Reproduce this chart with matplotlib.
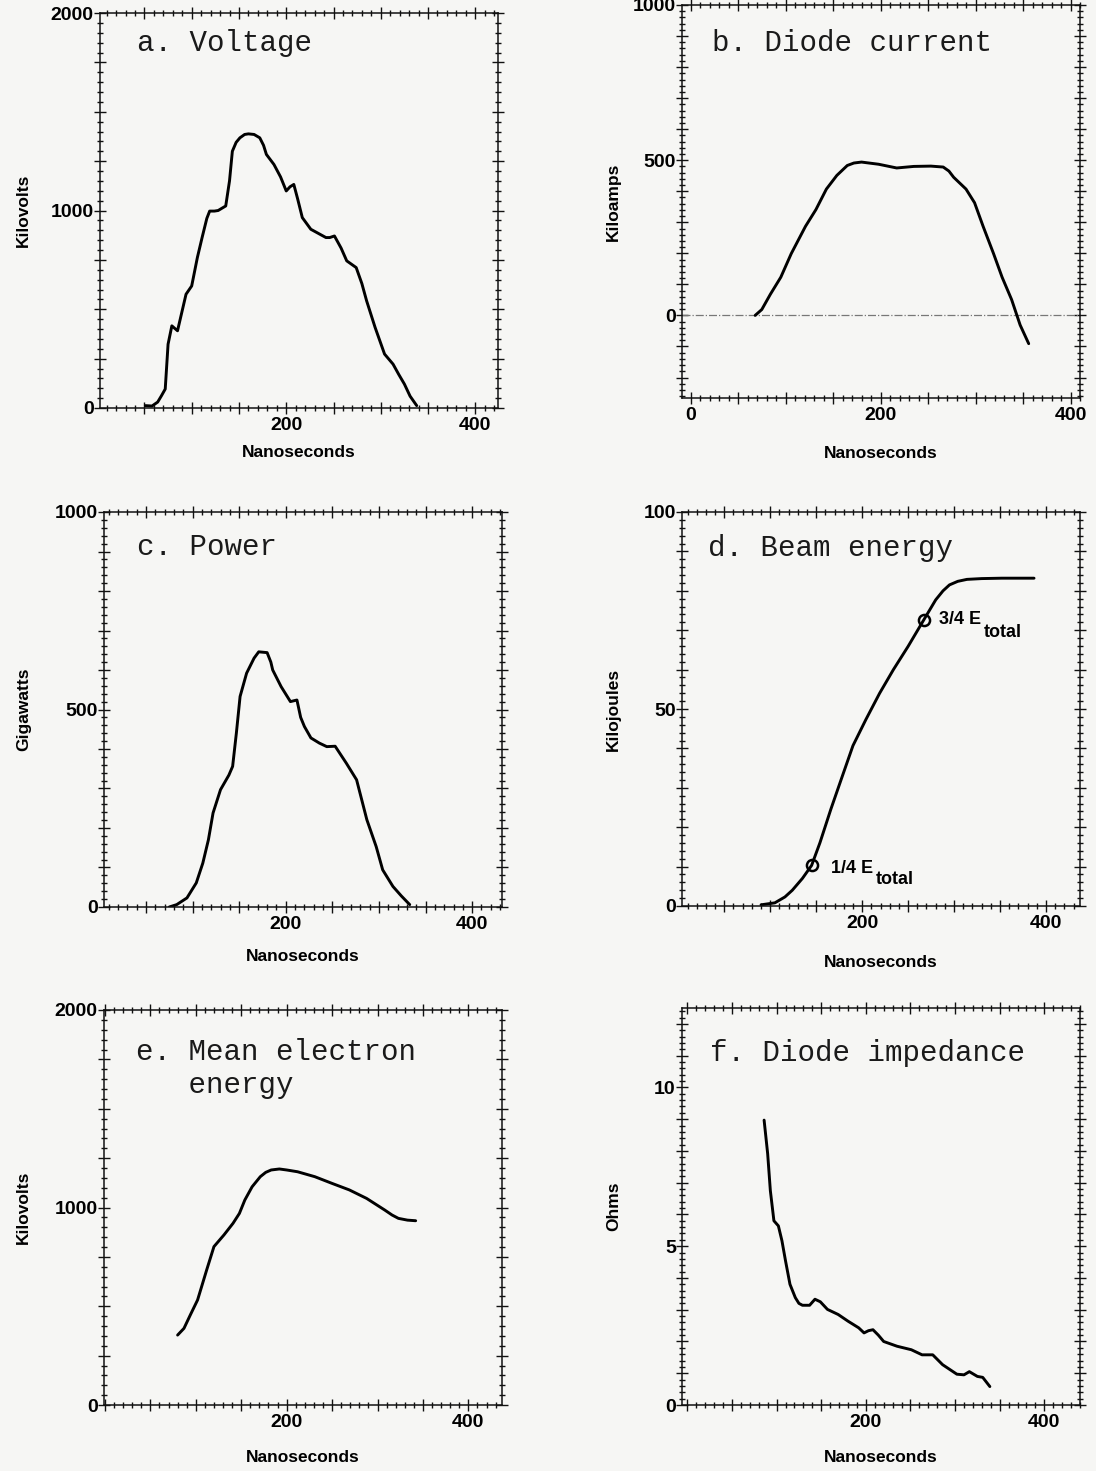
import matplotlib
matplotlib.use("Agg")
import matplotlib.pyplot as plt
from matplotlib.ticker import MultipleLocator, FuncFormatter

# a. Voltage (ns, kV)
volt_t = [51, 58, 64, 68, 72, 75, 79, 85, 94, 100, 106, 111, 116, 119, 124, 128, 136, 140, 143, 147,
          151, 156, 160, 166, 172, 176, 179, 187, 194, 200, 204, 208, 212, 217, 226, 242, 246, 251,
          258, 264, 274, 280, 285, 294, 304, 313, 319, 325, 331, 338]
volt_kv = [12, 10, 30, 62, 96, 323, 416, 391, 576, 618, 762, 863, 960, 997, 997, 1000, 1023, 1150, 1300, 1345,
           1368, 1385, 1388, 1385, 1368, 1330, 1284, 1233, 1170, 1099, 1120, 1132, 1060, 964, 905, 863, 863, 871,
           810, 745, 711, 630, 543, 408, 273, 222, 170, 121, 60, 12]

# b. Diode current (ns, kA)
cur_t = [68, 75, 84, 95, 106, 121, 132, 143, 154, 165, 172, 180, 198, 217, 235, 253, 266,
         272, 277, 290, 299, 308, 319, 328, 338, 347, 356]
cur_ka = [0, 19, 68, 123, 199, 287, 341, 407, 451, 483, 491, 494, 487, 475, 480, 481, 478,
          465, 445, 407, 363, 287, 199, 123, 51, -31, -91]

# c. Power (ns, GW)
pow_t = [75, 83, 94, 104, 111, 117, 122, 130, 139, 143, 147, 151, 158, 166, 171, 180, 184, 186,
         195, 205, 212, 216, 220, 227, 236, 244, 253, 265, 276, 287, 297, 304, 315, 324, 333]
pow_gw = [0, 6, 23, 61, 111, 170, 238, 297, 334, 356, 440, 533, 592, 630, 646, 644, 620, 600,
          558, 520, 524, 480, 457, 428, 415, 406, 407, 364, 322, 221, 153, 94, 52, 28, 6]

# d. Beam energy (ns, kJ)
en_t = [90, 105, 116, 124, 135, 145, 154, 166, 177, 190, 204, 219, 234, 250, 267, 280, 288, 295,
        304, 314, 330, 352, 387]
en_kj = [0.3, 0.8, 2.3, 4, 7, 10.3, 16, 24.6, 32, 40.7, 47.3, 54, 60, 65.9, 72.6, 77.7, 80.0, 81.5,
         82.4, 82.9, 83.1, 83.2, 83.2]
quarter_t, quarter_kj = [145, 267], [10.3, 72.6]

# e. Mean electron energy (ns, kV)
mee_t = [80, 87, 94, 102, 112, 120, 131, 141, 148, 154, 162, 171, 177, 183, 192, 200, 212, 231,
         250, 269, 288, 308, 316, 323, 333, 342]
mee_kv = [354, 388, 456, 532, 684, 802, 861, 920, 970, 1038, 1105, 1156, 1178, 1190, 1195, 1190, 1181, 1156,
          1122, 1089, 1046, 987, 962, 945, 936, 933]

# f. Diode impedance (ns, ohm)
imp_t = [86, 90, 93, 97, 102, 106, 110, 115, 121, 125, 129, 137, 143, 149, 157, 169, 180, 192, 198,
         203, 208, 214, 220, 235, 251, 263, 275, 286, 302, 310, 316, 325, 331, 339]
imp_ohm = [8.97, 7.91, 6.75, 5.8, 5.64, 5.17, 4.54, 3.8, 3.38, 3.2, 3.14, 3.14, 3.33, 3.25, 3.01, 2.85,
           2.64, 2.43, 2.27, 2.34, 2.37, 2.2, 2.0, 1.85, 1.74, 1.58, 1.58, 1.27, 0.97, 0.95, 1.05, 0.9, 0.87, 0.58]

W, H = 1096, 1471
bg = "#f6f6f4"
sans = "Liberation Sans"
mono = "Liberation Mono"

fig = plt.figure(figsize=(W / 100, H / 100), dpi=100, facecolor=bg)


def make_ax(left, bottom_px, width, height, xlim, ylim, xmaj, xmin, ymaj, ymin,
            xlabels, ylabels, ylab, ylab_x, xlab_y):
    ax = fig.add_axes([left / W, 1 - bottom_px / H, width / W, height / H], facecolor=bg)
    ax.set_xlim(*xlim)
    ax.set_ylim(*ylim)
    ax.xaxis.set_major_locator(MultipleLocator(xmaj))
    ax.xaxis.set_minor_locator(MultipleLocator(xmin))
    ax.yaxis.set_major_locator(MultipleLocator(ymaj))
    ax.yaxis.set_minor_locator(MultipleLocator(ymin))
    ax.xaxis.set_major_formatter(FuncFormatter(lambda v, p: "%g" % v if round(v, 3) in xlabels else ""))
    ax.yaxis.set_major_formatter(FuncFormatter(lambda v, p: "%g" % v if round(v, 3) in ylabels else ""))
    ax.tick_params(which="both", direction="inout", top=True, right=True, width=1.0, color="#111111")
    ax.tick_params(which="major", length=9)
    ax.tick_params(which="minor", length=4)
    ax.tick_params(axis="x", which="major", pad=2)
    ax.tick_params(axis="y", which="major", pad=0)
    for lab in ax.get_xticklabels() + ax.get_yticklabels():
        lab.set_fontfamily(sans)
        lab.set_fontweight("bold")
        lab.set_fontsize(14)
    for sp in ax.spines.values():
        sp.set_linewidth(1.1)
        sp.set_color("#111111")
    ax.set_ylabel(ylab, fontfamily=sans, fontweight="bold", fontsize=12.5)
    ax.set_xlabel("Nanoseconds", fontfamily=sans, fontweight="bold", fontsize=12.5)
    ax.yaxis.set_label_coords((ylab_x - left) / width, 0.5)
    ax.xaxis.set_label_coords(0.5, -(xlab_y - bottom_px) / height)
    return ax


def title(ax, x, y, s):
    ax.text(x, y, s, transform=ax.transAxes, fontfamily=mono, fontsize=21,
            va="center", ha="left", color="#1a1a1a")


line_kw = dict(color="black", lw=2.1, solid_joinstyle="round", solid_capstyle="round")

# a
ax = make_ax(100, 408, 398, 395, (3, 424), (0, 2000), 50, 10, 250, 50,
             [200, 400], [0, 1000, 2000], "Kilovolts", 31, 445)
ax.plot(volt_t, volt_kv, **line_kw)
title(ax, 0.093, 0.924, "a. Voltage")

# b
ax = make_ax(682, 398, 398, 393, (-9, 410), (-266, 1000), 50, 10, 100, 20,
             [0, 200, 400], [0, 500, 1000], "Kiloamps", 621, 446)
ax.axhline(0, color="#777777", lw=0.9, ls="-.")
ax.plot(cur_t, cur_ka, **line_kw)
title(ax, 0.075, 0.903, "b. Diode current")

# c
ax = make_ax(104, 907, 398, 395, (5, 432), (0, 1000), 50, 10, 100, 20,
             [200, 400], [0, 500, 1000], "Gigawatts", 31, 949)
ax.plot(pow_t, pow_gw, **line_kw)
title(ax, 0.083, 0.911, "c. Power")

# d
ax = make_ax(682, 906, 398, 394, (4, 437), (0, 100), 50, 10, 10, 2,
             [200, 400], [0, 50, 100], "Kilojoules", 621, 955)
ax.plot(en_t, en_kj, **line_kw)
ax.plot(quarter_t, quarter_kj, "o", ms=8, mfc="none", mec="black", mew=1.8)
title(ax, 0.065, 0.909, "d. Beam energy")
for tx, ty, sx, sy, s in [(0.374, 0.096, 0.487, 0.066, "1/4 E"), (0.646, 0.726, 0.759, 0.693, "3/4 E")]:
    ax.text(tx, ty, s, transform=ax.transAxes, fontfamily=sans, fontweight="bold",
            fontsize=13, va="center")
    ax.text(sx, sy, "total", transform=ax.transAxes, fontfamily=sans, fontweight="bold",
            fontsize=13, va="center")

# e
ax = make_ax(104, 1405, 398, 395, (-1, 437), (0, 2000), 50, 10, 250, 50,
             [200, 400], [0, 1000, 2000], "Kilovolts", 31, 1450)
ax.plot(mee_t, mee_kv, **line_kw)
title(ax, 0.08, 0.894, "e. Mean electron")
title(ax, 0.08, 0.81, "   energy")

# f
ax = make_ax(682, 1405, 398, 397, (-6, 440), (0, 12.5), 50, 10, 1, 0.2,
             [200, 400], [0, 5, 10], "Ohms", 621, 1450)
ax.plot(imp_t, imp_ohm, **line_kw)
title(ax, 0.07, 0.887, "f. Diode impedance")

fig.savefig("out.png", dpi=100, facecolor=bg)
